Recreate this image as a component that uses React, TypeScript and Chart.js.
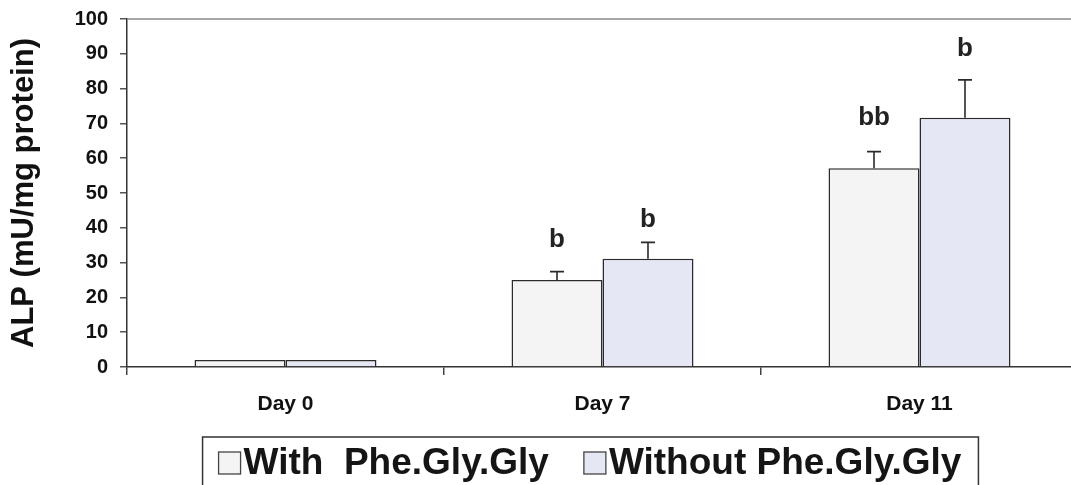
import React, { useEffect, useRef } from "react";
import { Chart, registerables } from "chart.js";

Chart.register(...registerables);

const categories = ["Day 0", "Day 7", "Day 11"];
const seriesNames = ["With  Phe.Gly.Gly", "Without Phe.Gly.Gly"];
const withValues = [2, 25, 57.1];
const withoutValues = [2, 31.1, 71.6];
const withErrors = [0, 2.4, 4.8];
const withoutErrors = [0, 4.7, 10.9];
const withLetters = ["", "b", "bb"];
const withoutLetters = ["", "b", "b"];
const withLetterAt = [0, 36.5, 71.6];
const withoutLetterAt = [0, 42.2, 91.4];
const yTicks = [0, 10, 20, 30, 40, 50, 60, 70, 80, 90, 100];

const FONT = "'Liberation Sans', Arial, sans-serif";
const INK = "#2b2b2b";

// Error bars and significance letters drawn above each bar
const annotations = {
  id: "annotations",
  afterDatasetsDraw(chart: any) {
    const ctx = chart.ctx;
    const yScale = chart.scales.y;
    const errs = [withErrors, withoutErrors];
    const letters = [withLetters, withoutLetters];
    const letterAt = [withLetterAt, withoutLetterAt];
    chart.data.datasets.forEach((ds: any, di: number) => {
      const meta = chart.getDatasetMeta(di);
      meta.data.forEach((bar: any, i: number) => {
        const v = ds.data[i];
        const e = errs[di][i];
        ctx.save();
        if (e > 0) {
          const y0 = yScale.getPixelForValue(v);
          const y1 = yScale.getPixelForValue(v + e);
          ctx.strokeStyle = INK;
          ctx.lineWidth = 1.6;
          ctx.beginPath();
          ctx.moveTo(bar.x, y0);
          ctx.lineTo(bar.x, y1);
          ctx.moveTo(bar.x - 7, y1);
          ctx.lineTo(bar.x + 7, y1);
          ctx.stroke();
        }
        const t = letters[di][i];
        if (t) {
          ctx.fillStyle = "#222";
          ctx.font = `bold 26px ${FONT}`;
          ctx.textAlign = "center";
          ctx.textBaseline = "middle";
          ctx.fillText(t, bar.x, yScale.getPixelForValue(letterAt[di][i]));
        }
        ctx.restore();
      });
    });
  },
};

// Top frame line, plus a boxed legend below the category labels
const frameAndLegend = {
  id: "frameAndLegend",
  afterDraw(chart: any) {
    const ctx = chart.ctx;
    const a = chart.chartArea;
    ctx.save();
    ctx.strokeStyle = "#8a8a8a";
    ctx.lineWidth = 1.5;
    ctx.beginPath();
    ctx.moveTo(a.left, a.top);
    ctx.lineTo(a.right, a.top);
    ctx.lineTo(a.right, a.bottom);
    ctx.stroke();

    const fontSize = 37;
    const box = 22;
    const boxGap = 3;
    const itemGap = 35;
    const centerX = 590;
    const textY = 463;
    ctx.font = `bold ${fontSize}px ${FONT}`;
    const items = chart.data.datasets.map((ds: any) => ({
      label: ds.label,
      fill: ds.backgroundColor,
      w: ctx.measureText(ds.label).width,
    }));
    const total =
      items.reduce((s: number, it: any) => s + box + boxGap + it.w, 0) +
      itemGap * (items.length - 1);
    let x = centerX - total / 2;
    const frameLeft = x - 16;
    const frameRight = x + total + 17;
    ctx.strokeStyle = "#333";
    ctx.lineWidth = 1.5;
    ctx.strokeRect(frameLeft, 437, frameRight - frameLeft, 60);
    items.forEach((it: any) => {
      ctx.fillStyle = it.fill;
      ctx.fillRect(x, textY - box / 2, box, box);
      ctx.strokeStyle = "#444";
      ctx.lineWidth = 1.3;
      ctx.strokeRect(x, textY - box / 2, box, box);
      ctx.fillStyle = "#151515";
      ctx.textAlign = "left";
      ctx.textBaseline = "middle";
      ctx.fillText(it.label, x + box + boxGap, textY + 1);
      x += box + boxGap + it.w + itemGap;
    });
    ctx.restore();
  },
};

export default function App() {
  const ref = useRef<HTMLCanvasElement | null>(null);

  useEffect(() => {
    if (!ref.current) return;
    const chart = new Chart(ref.current, {
      type: "bar",
      data: {
        labels: categories,
        datasets: [
          {
            label: seriesNames[0],
            data: withValues,
            backgroundColor: "#f4f4f4",
            borderColor: INK,
            borderWidth: 1.5,
            categoryPercentage: 0.574,
            barPercentage: 1,
          },
          {
            label: seriesNames[1],
            data: withoutValues,
            backgroundColor: "#e5e8f4",
            borderColor: INK,
            borderWidth: 1.5,
            categoryPercentage: 0.574,
            barPercentage: 1,
          },
        ],
      },
      options: {
        responsive: false,
        animation: false,
        devicePixelRatio: 1,
        layout: { padding: { top: 19, right: 4, left: 0, bottom: 53 } },
        plugins: {
          tooltip: { enabled: false },
          legend: { display: false },
        },
        scales: {
          x: {
            grid: {
              offset: true,
              drawOnChartArea: false,
              tickLength: 8,
              color: "#444",
              lineWidth: 1.5,
            },
            border: { color: "#333", width: 1.5 },
            ticks: {
              padding: 17,
              color: "#111",
              font: { family: FONT, size: 21, weight: "bold" },
            },
            afterFit: (s: any) => {
              s.height = 65;
            },
          },
          y: {
            min: 0,
            max: 100,
            afterBuildTicks: (s: any) => {
              s.ticks = yTicks.map((v) => ({ value: v }));
            },
            grid: {
              drawOnChartArea: false,
              tickLength: 7,
              color: "#555",
              lineWidth: 1.5,
            },
            border: { color: "#333", width: 1.5 },
            ticks: {
              padding: 12,
              color: "#111",
              font: { family: FONT, size: 20, weight: "bold" },
            },
            title: {
              display: true,
              text: "ALP (mU/mg protein)",
              color: "#111",
              padding: { top: 6, bottom: 0 },
              font: { family: FONT, size: 31, weight: "bold" },
            },
            afterFit: (s: any) => {
              s.width = 127;
              s.paddingTop = 0;
              s.paddingBottom = 0;
            },
          },
        },
      },
      plugins: [annotations, frameAndLegend],
    });
    return () => chart.destroy();
  }, []);

  return (
    <div
      style={{
        position: "absolute",
        left: 0,
        top: 0,
        width: 1071,
        height: 485,
        overflow: "hidden",
        background: "#fff",
      }}
    >
      <canvas ref={ref} width={1082} height={485} style={{ display: "block" }} />
    </div>
  );
}
